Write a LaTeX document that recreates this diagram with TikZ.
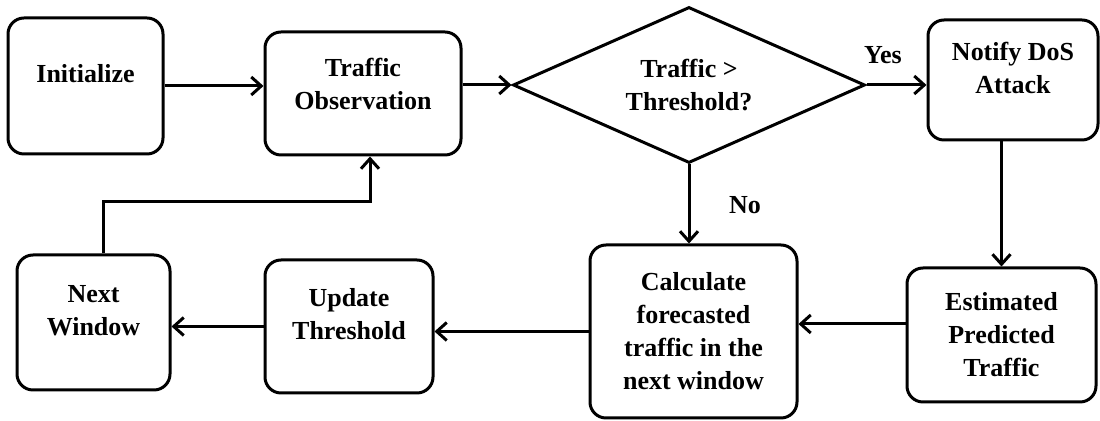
\documentclass[tikz,border=0pt]{standalone}
\usepackage{fontspec}
\setmainfont{Liberation Serif}
\usetikzlibrary{shapes.geometric,arrows.meta}
\begin{document}
\begin{tikzpicture}[x=0.5pt,y=-0.5pt,line width=1.5pt,>={Straight Barb[length=5pt,width=9pt]}]
\tikzstyle{box} = [draw, rounded corners=8pt, rectangle, align=center, inner sep=0pt, font=\fontsize{13}{16.5}\selectfont\bfseries]
\tikzstyle{decide} = [draw, diamond, aspect=2.26, align=center, inner sep=0pt, font=\fontsize{13}{16.5}\selectfont\bfseries]
\tikzstyle{lbl} = [inner sep=0pt, font=\fontsize{13}{16.5}\selectfont\bfseries]
%
\useasboundingbox (0,0) rectangle (1100,421);
\node[box,minimum width=77.5pt,minimum height=68pt,text depth=13pt] (11) at (85.5,86) {Initialize};
\node[box,minimum width=98pt,minimum height=61.5pt,text depth=10pt] (12) at (363,93.5) {Traffic\\Observation};
\node[decide,minimum width=176pt,minimum height=78pt] (13) at (689,85) {Traffic >\\Threshold?};
\node[box,minimum width=85pt,minimum height=60pt,text depth=12.5pt] (14) at (1013,80) {Notify DoS\\Attack};
\node[box,minimum width=76.5pt,minimum height=67.5pt,text depth=12.5pt] (21) at (93.5,322.5) {Next\\Window};
\node[box,minimum width=84pt,minimum height=66.5pt,text depth=12.5pt] (22) at (349,326.5) {Update\\Threshold};
\node[box,minimum width=103.5pt,minimum height=86.5pt] (23) at (693.5,331.5) {Calculate\\forecasted\\traffic in the\\next window};
\node[box,minimum width=94.5pt,minimum height=67pt] (24) at (1001.5,335) {Estimated\\Predicted\\Traffic};
\node[lbl] (yes) at (883,55) {Yes};
\node[lbl] (no) at (745,205) {No};
%
\draw[->] (11) -- (11 -| 12.west);
\draw[->] (12.east |- 13) -- (13.west);
\draw[->] (13.east) -- (13.east -| 14.west);
\draw[->] (24 |- 14.south) -- (24.north);
\draw[->] (13.south) -- (13.south |- 23.north);
\draw[->] ([yshift=5.5pt]24.west) -- ([yshift=5.5pt]24.west -| 23.east);
\draw[->] (23.west) -- (23.west -| 22.east);
\draw[->] (22.west) -- (22.west -| 21.east);
\draw[->] ([xshift=5pt]21.north) -- ++(0,-52) -| ([xshift=3.5pt]12.south);
\end{tikzpicture}
\end{document}
